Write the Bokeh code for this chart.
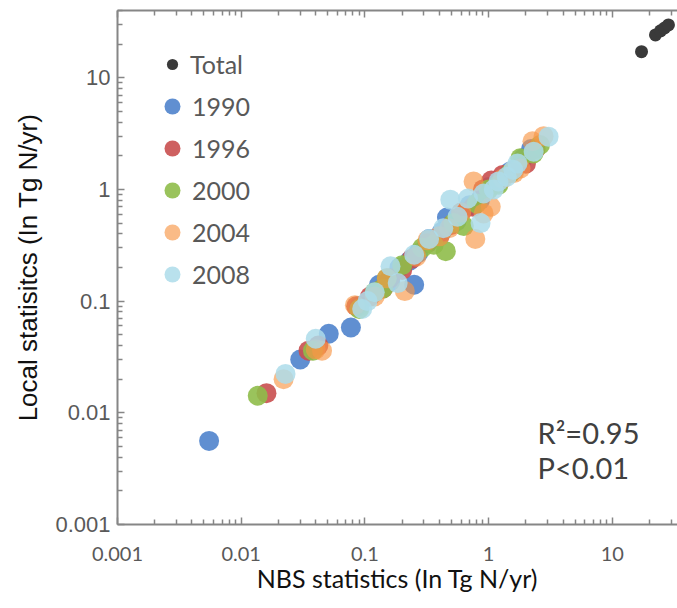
from bokeh.plotting import figure
from bokeh.models import LogAxis, FixedTicker, Legend, LegendItem, Label
from bokeh.embed import file_html
from bokeh.resources import INLINE

# ---------------- data (NBS statistics vs local statistics, Tg N/yr) -------------
total_nbs = [17.2, 22.3, 24.5, 26.4, 28.4]
total_local = [17.1, 24.2, 26.3, 27.9, 29.7]

nbs_1990 = [0.0055, 0.030, 0.051, 0.077, 0.090, 0.13, 0.16, 0.19, 0.23, 0.25, 0.27,
            0.33, 0.42, 0.46, 0.55, 0.70, 0.85, 1.0, 1.2, 1.5, 1.9, 2.2]
local_1990 = [0.0056, 0.030, 0.051, 0.058, 0.090, 0.14, 0.15, 0.20, 0.23, 0.14, 0.27,
              0.36, 0.42, 0.56, 0.52, 0.72, 0.80, 1.05, 1.15, 1.45, 1.9, 2.3]

nbs_1996 = [0.016, 0.035, 0.042, 0.085, 0.11, 0.14, 0.16, 0.20, 0.24, 0.32, 0.40, 0.50,
            0.60, 0.75, 0.90, 1.05, 1.3, 1.6, 2.0, 2.4]
local_1996 = [0.015, 0.036, 0.040, 0.090, 0.11, 0.13, 0.16, 0.19, 0.24, 0.33, 0.38, 0.48,
              0.62, 0.70, 1.0, 1.20, 1.35, 1.5, 1.7, 2.3]

nbs_2000 = [0.0136, 0.038, 0.09, 0.12, 0.14, 0.15, 0.20, 0.29, 0.36, 0.45, 0.52, 0.63,
            0.8, 1.0, 1.2, 1.5, 1.8, 2.3, 2.6]
local_2000 = [0.0142, 0.036, 0.085, 0.12, 0.13, 0.16, 0.21, 0.30, 0.32, 0.28, 0.50, 0.47,
              0.75, 1.0, 1.1, 1.4, 1.9, 2.1, 2.5]

nbs_2004 = [0.022, 0.040, 0.045, 0.083, 0.12, 0.15, 0.21, 0.26, 0.32, 0.40, 0.48, 0.60,
            0.755, 0.78, 0.91, 1.04, 1.3, 1.6, 1.81, 2.26, 2.78]
local_2004 = [0.020, 0.037, 0.036, 0.092, 0.11, 0.16, 0.123, 0.25, 0.35, 0.38, 0.45, 0.62,
              1.18, 0.36, 0.61, 0.70, 1.25, 1.4, 1.54, 2.7, 3.0]

nbs_2008 = [0.0228, 0.040, 0.095, 0.105, 0.12, 0.161, 0.184, 0.25, 0.33, 0.43, 0.49, 0.56,
            0.68, 0.86, 0.91, 1.1, 1.2, 1.4, 1.58, 1.71, 2.31, 3.05]
local_2008 = [0.0223, 0.046, 0.085, 0.10, 0.12, 0.205, 0.145, 0.26, 0.36, 0.45, 0.81, 0.57,
              0.83, 0.50, 0.92, 1.0, 1.18, 1.3, 1.5, 1.71, 2.18, 2.97]

years = ["1990", "1996", "2000", "2004", "2008"]
year_x = [nbs_1990, nbs_1996, nbs_2000, nbs_2004, nbs_2008]
year_y = [local_1990, local_1996, local_2000, local_2004, local_2008]
year_colors = ["#4F83CC", "#C94F4F", "#8FBC4A", "#F79646", "#ADDCEA"]
year_alpha = [0.9, 0.9, 0.9, 0.65, 0.85]

major_ticks = [0.001, 0.01, 0.1, 1, 10]
major_labels = ["0.001", "0.01", "0.1", "1", "10"]
minor_ticks = [k * m for m in [0.001, 0.01, 0.1, 1, 10] for k in range(2, 10)]

AXIS_COLOR = "#868686"
LABEL_COLOR = "#595959"

p = figure(width=677, height=608, x_axis_type="log", y_axis_type="log",
           x_range=(0.001, 33.6), y_range=(0.001, 40),
           output_backend="svg", toolbar_location=None,
           min_border_left=117, min_border_right=0, min_border_top=10, min_border_bottom=84)
p.outline_line_color = None
p.grid.visible = False
p.background_fill_color = "white"
p.border_fill_color = "white"

r_total = p.scatter(total_nbs, total_local, size=13, color="#3A3A3A", line_color=None)
year_renderers = []
for xs, ys, c, a in zip(year_x, year_y, year_colors, year_alpha):
    r = p.scatter(xs, ys, size=20, fill_color=c, fill_alpha=a, line_color=None)
    year_renderers.append(r)

ticker = FixedTicker(ticks=major_ticks, minor_ticks=minor_ticks)
overrides = {t: l for t, l in zip(major_ticks, major_labels)}


def style_axis(ax):
    ax.ticker = ticker
    ax.axis_line_color = AXIS_COLOR
    ax.axis_line_width = 2
    ax.major_tick_line_color = AXIS_COLOR
    ax.minor_tick_line_color = AXIS_COLOR
    ax.major_tick_line_width = 1.5
    ax.minor_tick_line_width = 1.5
    ax.major_tick_in = 7
    ax.major_tick_out = 0
    ax.minor_tick_in = 5
    ax.minor_tick_out = 0
    ax.major_label_overrides = overrides


xa = p.xaxis[0]
style_axis(xa)
xa.major_label_text_font = "Lato"
xa.major_label_text_font_size = "20px"
xa.major_label_text_color = LABEL_COLOR
xa.major_label_standoff = 22
xa.axis_label = "NBS statistics (In Tg N/yr)"
xa.axis_label_text_font = "Lato"
xa.axis_label_text_font_size = "25px"
xa.axis_label_text_font_style = "normal"
xa.axis_label_text_color = "#111111"
xa.axis_label_standoff = -1

ya = p.yaxis[0]
style_axis(ya)
ya.major_label_text_font = "Liberation Sans"
ya.major_label_text_font_size = "22px"
ya.major_label_text_color = LABEL_COLOR
ya.major_label_standoff = 7
ya.axis_label = "Local statisitcs (In Tg N/yr)"
ya.axis_label_text_font = "Liberation Sans"
ya.axis_label_text_font_size = "26px"
ya.axis_label_text_font_style = "normal"
ya.axis_label_text_color = "#111111"
ya.axis_label_standoff = 9

top = LogAxis()
style_axis(top)
top.major_label_text_font_size = "1px"
top.major_label_text_color = None
top.major_label_text_alpha = 0
top.major_label_standoff = 0
p.add_layout(top, "above")

# legends
leg_total = Legend(items=[LegendItem(label="Total", renderers=[r_total])],
                   location=(41, 445), glyph_width=28, glyph_height=28,
                   label_standoff=4, label_height=28, padding=0, margin=0, spacing=0,
                   border_line_color=None, background_fill_alpha=0,
                   label_text_font="Lato", label_text_font_size="25px",
                   label_text_color=LABEL_COLOR)
leg_years = Legend(items=[LegendItem(label=y, renderers=[r]) for y, r in zip(years, year_renderers)],
                   location=(35, 230), glyph_width=40, glyph_height=40,
                   label_standoff=0, padding=0, margin=0, spacing=2,
                   border_line_color=None, background_fill_alpha=0,
                   label_text_font="Lato", label_text_font_size="25px",
                   label_text_color=LABEL_COLOR)
p.add_layout(leg_total)
p.add_layout(leg_years)

for txt, yy in [("R²=0.95", 92), ("P<0.01", 57)]:
    p.add_layout(Label(x=420, y=yy, x_units="screen", y_units="screen", text=txt,
                       text_font="Lato", text_font_size="29px", text_color="#404040",
                       text_baseline="middle"))

open("out.html", "w").write(file_html(p, INLINE))
